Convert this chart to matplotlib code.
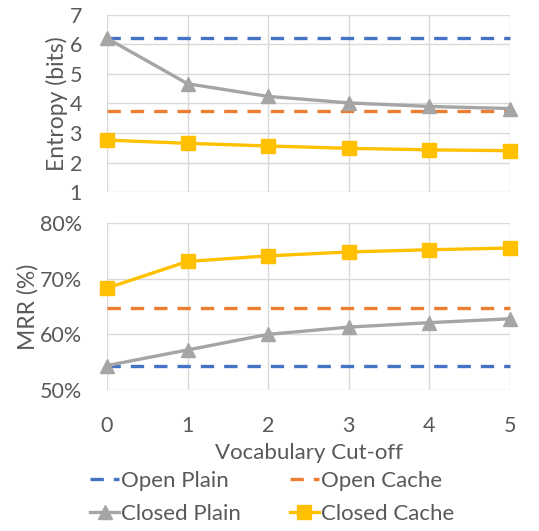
import numpy as np
import matplotlib
matplotlib.use("Agg")
import matplotlib.pyplot as plt

plt.rcParams['font.family'] = ['Lato', 'DejaVu Sans']

cutoff = [0, 1, 2, 3, 4, 5]
series = ['Open Plain', 'Open Cache', 'Closed Plain', 'Closed Cache']

ent_open_plain = [6.22] * 6
ent_open_cache = [3.74] * 6
ent_closed_plain = [6.21, 4.67, 4.24, 4.02, 3.9, 3.83]
ent_closed_cache = [2.76, 2.65, 2.56, 2.48, 2.43, 2.4]

mrr_open_plain = [54.4] * 6
mrr_open_cache = [64.7] * 6
mrr_closed_plain = [54.4, 57.2, 60.0, 61.3, 62.1, 62.8]
mrr_closed_cache = [68.3, 73.1, 74.1, 74.8, 75.2, 75.5]

c_blue = '#4472C4'
c_orange = '#ED7D31'
c_gray = '#A5A5A5'
c_gold = '#FFC000'
txt = '#595959'
grid = '#D9D9D9'

fig = plt.figure(figsize=(5.39, 5.31), dpi=100)
ax1 = fig.add_axes([0.1985, 0.6384, 0.7475, 0.3334])
ax2 = fig.add_axes([0.1985, 0.2655, 0.7475, 0.3145])


def style(ax):
    for s in ax.spines.values():
        s.set_visible(False)
    ax.grid(True, color=grid, lw=1)
    ax.set_axisbelow(True)
    ax.tick_params(length=0, colors=txt, labelsize=15.5, pad=18)
    ax.set_xlim(0, 5)
    ax.set_xticks(cutoff)


def draw(ax, op, oc, cp, cc):
    l1, = ax.plot(cutoff, op, color=c_blue, lw=2.4, dashes=(4, 3), clip_on=False)
    l2, = ax.plot(cutoff, oc, color=c_orange, lw=2.4, dashes=(4, 3), clip_on=False)
    l3, = ax.plot(cutoff, cp, color=c_gray, lw=2.4, marker='^', ms=10.5, clip_on=False)
    l4, = ax.plot(cutoff, cc, color=c_gold, lw=2.4, marker='s', ms=9.5, clip_on=False)
    return [l1, l2, l3, l4]


style(ax1)
draw(ax1, ent_open_plain, ent_open_cache, ent_closed_plain, ent_closed_cache)
ax1.set_ylim(1, 7)
ax1.set_yticks(range(1, 8))
ax1.set_xticklabels([])
ax1.set_ylabel('Entropy (bits)', color=txt, fontsize=16.5, labelpad=1)

style(ax2)
handles = draw(ax2, mrr_open_plain, mrr_open_cache, mrr_closed_plain, mrr_closed_cache)
ax2.set_ylim(50, 80)
ax2.set_yticks([50, 60, 70, 80])
ax2.set_yticklabels(['50%', '60%', '70%', '80%'])
ax2.tick_params(axis='x', pad=19)
ax2.set_ylabel('MRR (%)', color=txt, fontsize=16.5, labelpad=1)
ax2.set_xlabel('Vocabulary Cut-off', color=txt, fontsize=16, labelpad=5)

# legend fills column by column, so reorder for row-wise layout
order = [0, 2, 1, 3]
leg = fig.legend([handles[i] for i in order], [series[i] for i in order],
                 loc='upper center', bbox_to_anchor=(0.505, 0.13),
                 ncol=2, frameon=False, fontsize=16, handlelength=1.3,
                 handletextpad=0.1, columnspacing=2.2, labelspacing=0.6,
                 borderaxespad=0)
for t in leg.get_texts():
    t.set_color(txt)

fig.savefig('out.png', dpi=100)
